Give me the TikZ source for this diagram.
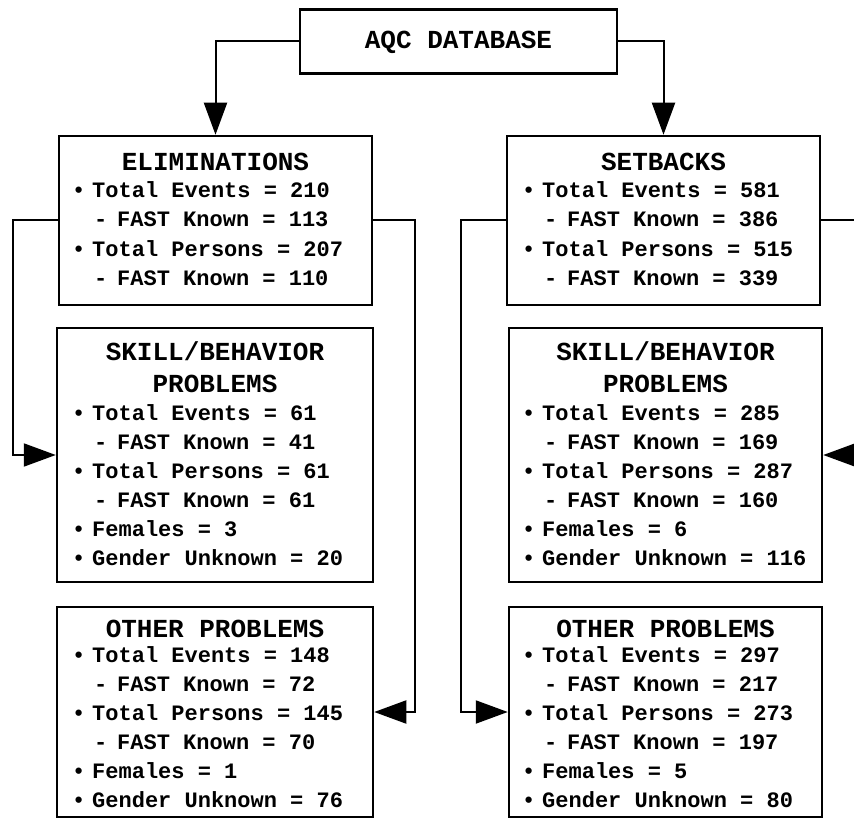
\documentclass[tikz,border=0pt]{standalone}
\usepackage{fontspec}
\setmainfont{Liberation Mono}
\usetikzlibrary{arrows.meta}
\tikzset{
 box/.style={draw, line width=2.5pt, inner sep=0pt},
 conn/.style={line width=2pt},
 arr/.style={conn, -{Triangle[length=32pt,width=23pt]}},
 txt/.style={anchor=base west, inner sep=0pt, font=\fontsize{22}{26}\selectfont\bfseries},
 ttl/.style={anchor=base, inner sep=0pt, font=\fontsize{26}{30}\selectfont\bfseries},
}
\newcommand\bitem[4]{\node[txt] (#1b) at (#2+14,#3) {•};\node[txt] (#1) at (#2+34,#3) {#4};}
\newcommand\sitem[4]{\node[txt] (#1d) at (#2+36,#3) {-};\node[txt] (#1) at (#2+59,#3) {#4};}
\begin{document}
\begin{tikzpicture}[x=1pt,y=-1pt]
\useasboundingbox (0,0) rectangle (854,821);
% boxes
\node[box, minimum width=317pt, minimum height=64pt] (top) at (458.5,41.5) {};
\node[box, minimum width=313pt, minimum height=169pt] (elim) at (215.5,220.5) {};
\node[box, minimum width=313pt, minimum height=169pt] (setb) at (663.5,220.5) {};
\node[box, minimum width=316pt, minimum height=254pt] (skl) at (215,455) {};
\node[box, minimum width=313pt, minimum height=254pt] (sklr) at (665.5,455) {};
\node[box, minimum width=316pt, minimum height=210pt] (oth) at (215,712) {};
\node[box, minimum width=313pt, minimum height=210pt] (othr) at (665.5,712) {};
% top
\node[ttl] (topt) at (458.5,49) {AQC DATABASE};
% eliminations
\node[ttl] (elimt) at (215.5,171) {ELIMINATIONS};
\bitem{e1}{58}{198}{Total Events = 210}
\sitem{e2}{58}{227}{FAST Known = 113}
\bitem{e3}{58}{256}{Total Persons = 207}
\sitem{e4}{58}{285}{FAST Known = 110}
% setbacks
\node[ttl] (setbt) at (663.5,171) {SETBACKS};
\bitem{s1}{508}{198}{Total Events = 581}
\sitem{s2}{508}{227}{FAST Known = 386}
\bitem{s3}{508}{256}{Total Persons = 515}
\sitem{s4}{508}{285}{FAST Known = 339}
% skill left
\node[ttl] (sklt1) at (215,360) {SKILL/BEHAVIOR};
\node[ttl] (sklt2) at (215,392) {PROBLEMS};
\bitem{k1}{58}{420}{Total Events = 61}
\sitem{k2}{58}{449}{FAST Known = 41}
\bitem{k3}{58}{478}{Total Persons = 61}
\sitem{k4}{58}{507}{FAST Known = 61}
\bitem{k5}{58}{536}{Females = 3}
\bitem{k6}{58}{565}{Gender Unknown = 20}
% skill right
\node[ttl] (sklrt1) at (665.5,360) {SKILL/BEHAVIOR};
\node[ttl] (sklrt2) at (665.5,392) {PROBLEMS};
\bitem{r1}{508}{420}{Total Events = 285}
\sitem{r2}{508}{449}{FAST Known = 169}
\bitem{r3}{508}{478}{Total Persons = 287}
\sitem{r4}{508}{507}{FAST Known = 160}
\bitem{r5}{508}{536}{Females = 6}
\bitem{r6}{508}{565}{Gender Unknown = 116}
% other left
\node[ttl] (otht) at (215,637) {OTHER PROBLEMS};
\bitem{o1}{58}{662}{Total Events = 148}
\sitem{o2}{58}{691}{FAST Known = 72}
\bitem{o3}{58}{720}{Total Persons = 145}
\sitem{o4}{58}{749}{FAST Known = 70}
\bitem{o5}{58}{778}{Females = 1}
\bitem{o6}{58}{807}{Gender Unknown = 76}
% other right
\node[ttl] (othrt) at (665.5,637) {OTHER PROBLEMS};
\bitem{p1}{508}{662}{Total Events = 297}
\sitem{p2}{508}{691}{FAST Known = 217}
\bitem{p3}{508}{720}{Total Persons = 273}
\sitem{p4}{508}{749}{FAST Known = 197}
\bitem{p5}{508}{778}{Females = 5}
\bitem{p6}{508}{807}{Gender Unknown = 80}
% connectors
\draw[arr] (top.west) -| (elim.north);
\draw[arr] (top.east) -| (setb.north);
\draw[arr] (elim.west) -- ++(-45,0) |- (skl.west);
\draw[arr] (elim.east) -- ++(42,0) |- (oth.east);
\draw[arr] (setb.west) -- ++(-45,0) |- (othr.west);
\draw[arr] (setb.east) -- ++(40,0) |- (sklr.east);
\end{tikzpicture}
\end{document}
